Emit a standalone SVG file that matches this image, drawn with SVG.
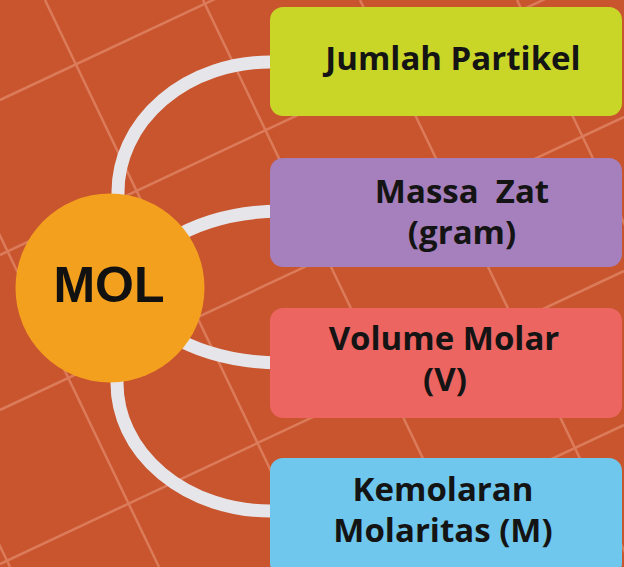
<svg xmlns="http://www.w3.org/2000/svg" width="624" height="567" viewBox="0 0 624 567">
<style>
.grid line{stroke:#db7b5a;stroke-width:2.5}
.conn path{fill:none;stroke:#e6e6ea;stroke-width:13}
.box{stroke:none}
.lbl{font-family:"Open Sans","Liberation Sans",sans-serif;font-weight:700;font-size:33px;fill:#141414;text-anchor:middle}
.mol{font-family:"Liberation Sans",Arial,sans-serif;font-weight:700;font-size:50px;fill:#111;text-anchor:middle}
</style>
<rect width="624" height="567" fill="#c8552e"/>
<g class="grid">
<line x1="-262" y1="0" x2="10" y2="567"/>
<line x1="-113" y1="0" x2="159" y2="567"/>
<line x1="45" y1="0" x2="317" y2="567"/>
<line x1="203" y1="0" x2="475" y2="567"/>
<line x1="360" y1="0" x2="632" y2="567"/>
<line x1="517" y1="0" x2="789" y2="567"/>
<line x1="0" y1="100" x2="624" y2="-193"/>
<line x1="0" y1="255" x2="624" y2="-38"/>
<line x1="0" y1="410" x2="624" y2="117"/>
<line x1="0" y1="564" x2="624" y2="271"/>
<line x1="0" y1="718" x2="624" y2="425"/>
</g>
<g id="connectors" class="conn">
<path d="M118,205 L118,192 A152,130 0 0 1 270,62 L280,62"/>
<path d="M170,240 Q215,212 280,211"/>
<path d="M170,335 Q215,362 280,363"/>
<path d="M117,370 L117,383 A153,128 0 0 0 270,511 L280,511"/>
</g>
<g id="mol">
<circle cx="110" cy="288" r="94.5" fill="#f4a01f"/>
<text class="mol" x="109" y="302">MOL</text>
</g>
<g id="jumlah">
<rect class="box" x="270" y="7" width="352" height="109" rx="13" fill="#c9d628"/>
<text class="lbl" x="453" y="70">Jumlah Partikel</text>
</g>
<g id="massa">
<rect class="box" x="270" y="158" width="352" height="109" rx="13" fill="#a67fbd"/>
<text class="lbl" x="462" y="203" xml:space="preserve">Massa  Zat</text>
<text class="lbl" x="462" y="244">(gram)</text>
</g>
<g id="volume">
<rect class="box" x="270" y="308" width="352" height="110" rx="13" fill="#ec6561"/>
<text class="lbl" x="444" y="350">Volume Molar</text>
<text class="lbl" x="445" y="391">(V)</text>
</g>
<g id="kemolaran">
<rect class="box" x="270" y="458" width="352" height="118" rx="13" fill="#6fc7ee"/>
<text class="lbl" x="443" y="501">Kemolaran</text>
<text class="lbl" x="443" y="542">Molaritas (M)</text>
</g>
</svg>
